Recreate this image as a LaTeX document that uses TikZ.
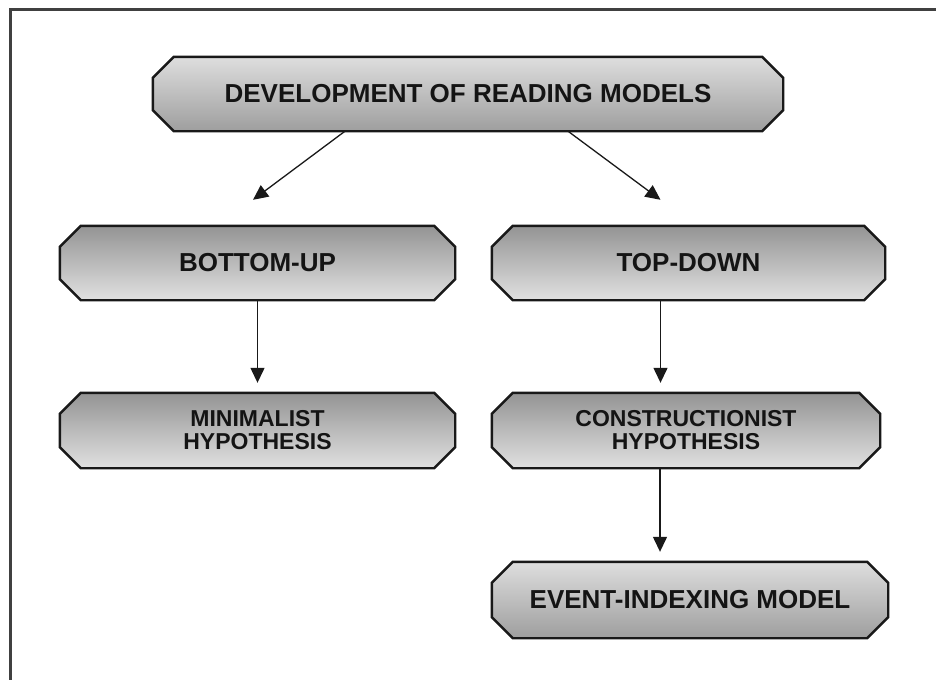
\documentclass[tikz,border=0pt]{standalone}
\usepackage{fontspec}
\setmainfont{Liberation Sans}
\usetikzlibrary{arrows.meta,backgrounds}
\tikzset{
  box/.style={rectangle, inner sep=0pt, minimum height=74pt, align=center,
    font=\bfseries\fontsize{26}{28}\selectfont, text=black!92},
  edge/.style={draw=black!90, line width=2.4pt, line join=miter},
  lighttop/.style={edge, top color=black!13, bottom color=black!38},
  darktop/.style={edge, top color=black!42, bottom color=black!12},
  twoline/.style={font=\bfseries\fontsize{23}{23}\selectfont},
  arr/.style={-{Triangle[width=14pt,length=15pt]}, line width=1.3pt, black!90}
}
% outline with cut corners behind node #1
\newcommand\cutbox[2]{%
  \path[#2] ([xshift=21pt]#1.north west) -- ([xshift=-21pt]#1.north east)
    -- ([yshift=-21pt]#1.north east) -- ([yshift=21pt]#1.south east)
    -- ([xshift=-21pt]#1.south east) -- ([xshift=21pt]#1.south west)
    -- ([yshift=21pt]#1.south west) -- ([yshift=-21pt]#1.north west) -- cycle;}
\begin{document}
\begin{tikzpicture}[x=1pt,y=-1pt]
  \useasboundingbox (0,0) rectangle (936,680);
  \coordinate (frametl) at (10.5,9.5);
  \draw[line width=3pt, black!75] (frametl -| 936,0) -- (frametl) -- (frametl |- 0,680);
  \node[box,minimum width=630pt] (dev) at (468,94) {DEVELOPMENT OF READING MODELS};
  \node[box,minimum width=395pt] (bu) at (257.5,263) {BOTTOM-UP};
  \node[box,minimum width=393pt] (td) at (688.5,263) {TOP-DOWN};
  \node[box,twoline,minimum width=395pt,minimum height=75pt] (mh) at (257.5,430.5) {MINIMALIST\\HYPOTHESIS};
  \node[box,twoline,minimum width=388pt,minimum height=75pt] (ch) at (686,430.5) {CONSTRUCTIONIST\\HYPOTHESIS};
  \node[box,minimum width=396pt,minimum height=76pt] (ev) at (690,600) {EVENT-INDEXING MODEL};
  \begin{scope}[on background layer]
    \cutbox{dev}{lighttop}
    \cutbox{bu}{darktop}
    \cutbox{td}{darktop}
    \cutbox{mh}{darktop}
    \cutbox{ch}{darktop}
    \cutbox{ev}{lighttop}
  \end{scope}
  \draw[arr] ([xshift=-123pt]dev.south) -- ([xshift=-4.5pt,yshift=26pt]bu.north);
  \draw[arr] ([xshift=100pt]dev.south) -- ([xshift=-28pt,yshift=26pt]td.north);
  \draw[arr,shorten >=10pt] (bu.south) -- (mh.north);
  \draw[arr,shorten >=10pt] ([xshift=-28pt]td.south) coordinate (tdout) -- (tdout |- ch.north);
  \draw[arr,shorten >=10pt] ([xshift=-26pt]ch.south) coordinate (chout) -- (chout |- ev.north);
\end{tikzpicture}
\end{document}
